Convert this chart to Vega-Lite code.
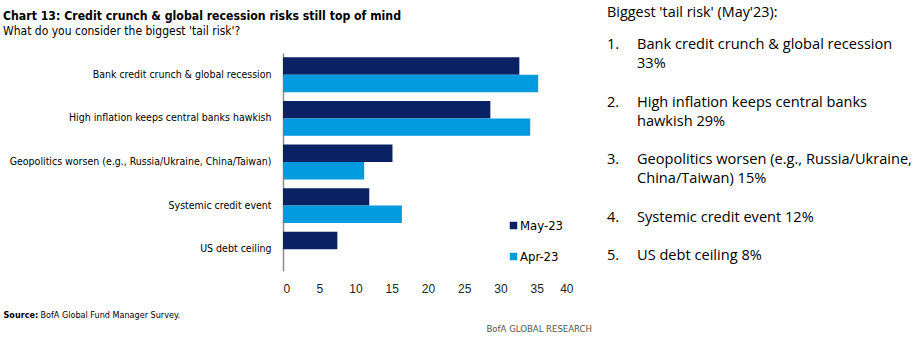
{
  "$schema": "https://vega.github.io/schema/vega-lite/v6.json",
  "padding": {"left": 3, "top": 4, "right": 0, "bottom": 0},
  "background": "white",
  "config": {
    "view": {"stroke": null},
    "font": "DejaVu Sans Condensed, sans-serif",
    "concat": {"spacing": 34}
  },
  "datasets": {
    "risks": [
      {"risk": "Bank credit crunch & global recession", "month": "May-23", "pct": 32.6},
      {"risk": "Bank credit crunch & global recession", "month": "Apr-23", "pct": 35.2},
      {"risk": "High inflation keeps central banks hawkish", "month": "May-23", "pct": 28.6},
      {"risk": "High inflation keeps central banks hawkish", "month": "Apr-23", "pct": 34.1},
      {"risk": "Geopolitics worsen (e.g., Russia/Ukraine, China/Taiwan)", "month": "May-23", "pct": 15.1},
      {"risk": "Geopolitics worsen (e.g., Russia/Ukraine, China/Taiwan)", "month": "Apr-23", "pct": 11.2},
      {"risk": "Systemic credit event", "month": "May-23", "pct": 11.9},
      {"risk": "Systemic credit event", "month": "Apr-23", "pct": 16.4},
      {"risk": "US debt ceiling", "month": "May-23", "pct": 7.5}
    ],
    "panel": [
      {
        "nums": ["1.", "\u2800", "\u2800", "2.", "\u2800", "\u2800", "3.", "\u2800", "\u2800", "4.", "\u2800", "5."],
        "body": ["Bank credit crunch & global recession", "33%", "\u2800", "High inflation keeps central banks", "hawkish 29%", "\u2800", "Geopolitics worsen (e.g., Russia/Ukraine,", "China/Taiwan) 15%", "\u2800", "Systemic credit event 12%", "\u2800", "US debt ceiling 8%"]
      }
    ]
  },
  "bounds": "flush",
  "hconcat": [
    {
      "width": 290,
      "height": 218,
      "data": {"name": "risks"},
      "title": {
        "text": "Chart 13: Credit crunch & global recession risks still top of mind",
        "subtitle": "What do you consider the biggest 'tail risk'?",
        "anchor": "start",
        "frame": "bounds",
        "font": "DejaVu Sans Condensed, sans-serif",
        "fontSize": 12.2,
        "fontWeight": "bold",
        "color": "#000000",
        "subtitleFont": "DejaVu Sans Condensed, sans-serif",
        "subtitleFontSize": 12,
        "subtitleColor": "#000000",
        "subtitlePadding": 4,
        "offset": 16
      },
      "mark": {"type": "bar"},
      "encoding": {
        "y": {
          "field": "risk",
          "type": "nominal",
          "sort": null,
          "scale": {"paddingInner": 0.2, "paddingOuter": 0.1},
          "axis": {
            "title": "Source:",
            "titleAngle": 0,
            "titleX": -280,
            "titleY": 261,
            "titleAlign": "left",
            "titleBaseline": "middle",
            "titleFontSize": 9,
            "titleFontWeight": "bold",
            "titleColor": "#000000",
            "ticks": false,
            "labelPadding": 12,
            "labelFontSize": 10.5,
            "labelColor": "#000000",
            "labelLimit": 400,
            "domainColor": "#8c8c8c",
            "domainWidth": 1.5
          }
        },
        "yOffset": {"field": "month", "type": "nominal", "sort": ["May-23", "Apr-23"]},
        "x": {
          "field": "pct",
          "type": "quantitative",
          "scale": {"domain": [0, 40], "nice": false},
          "axis": {
            "values": [0, 5, 10, 15, 20, 25, 30, 35, 40],
            "grid": false,
            "ticks": false,
            "domain": false,
            "labelPadding": 12,
            "labelFontSize": 12,
            "labelColor": "#222222",
            "labelFont": "Liberation Sans, DejaVu Sans, sans-serif",
            "title": "BofA Global Fund Manager Survey.",
            "titleX": -243,
            "titleY": 43,
            "titleAlign": "left",
            "titleBaseline": "middle",
            "titleFontSize": 9,
            "titleFontWeight": "normal",
            "titleColor": "#000000"
          }
        },
        "color": {
          "field": "month",
          "type": "nominal",
          "sort": ["May-23", "Apr-23"],
          "scale": {"domain": ["May-23", "Apr-23"], "range": ["#0a2163", "#009ade"]},
          "legend": {
            "title": null,
            "orient": "none",
            "legendX": 224,
            "legendY": 166,
            "symbolType": "square",
            "symbolSize": 56,
            "symbolStrokeWidth": 0,
            "rowPadding": 17,
            "labelFontSize": 13,
            "labelColor": "#000000",
            "labelOffset": 0
          }
        }
      }
    },
    {
      "width": 300,
      "height": 218,
      "data": {"name": "panel"},
      "title": {
        "text": "Biggest 'tail risk' (May'23):",
        "anchor": "start",
        "frame": "group",
        "font": "Open Sans, sans-serif",
        "fontSize": 14.4,
        "fontWeight": "normal",
        "color": "#000000",
        "offset": 17
      },
      "layer": [
        {
          "mark": {"type": "text", "align": "left", "baseline": "top", "lineHeight": 19.2, "font": "Open Sans, DejaVu Sans, sans-serif", "fontSize": 14.6, "color": "#000000", "dy": -16},
          "encoding": {
            "text": {"field": "nums"},
            "x": {"datum": 0, "type": "quantitative", "scale": {"domain": [0, 1]}, "axis": {"labels": false, "ticks": false, "domain": false, "grid": false, "title": "BofA GLOBAL RESEARCH", "titleX": -121, "titleY": 57, "titleAlign": "left", "titleBaseline": "middle", "titleFontSize": 9.5, "titleFontWeight": "normal", "titleColor": "#555555", "titleFont": "DejaVu Sans Condensed, sans-serif"}},
            "y": {"datum": 1, "type": "quantitative", "scale": {"domain": [0, 1]}, "axis": null}
          }
        },
        {
          "mark": {"type": "text", "align": "left", "baseline": "top", "lineHeight": 19.2, "font": "Open Sans, DejaVu Sans, sans-serif", "fontSize": 14.6, "color": "#000000", "dx": 30, "dy": -16},
          "encoding": {
            "text": {"field": "body"},
            "x": {"datum": 0, "type": "quantitative"},
            "y": {"datum": 1, "type": "quantitative"}
          }
        }
      ]
    }
  ]
}
